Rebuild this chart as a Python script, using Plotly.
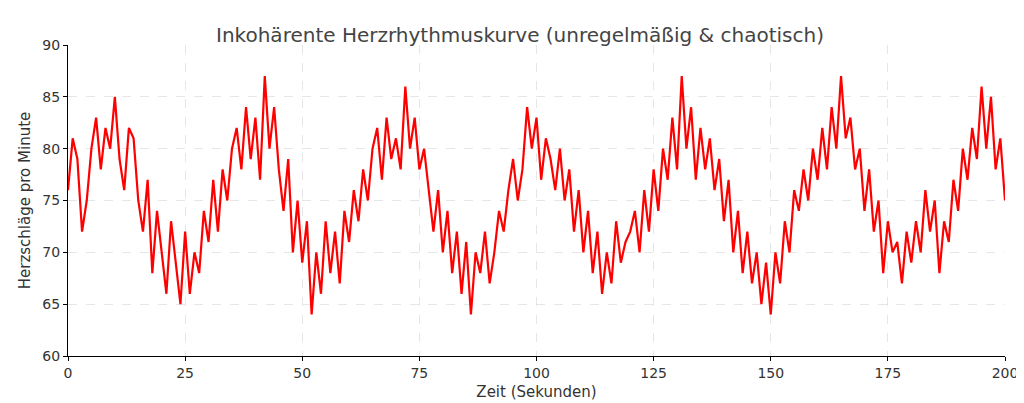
import plotly.graph_objects as go

seconds = list(range(0, 201))
bpm = [76,81,79,72,75,80,83,78,82,80,85,79,76,82,81,75,
       72,77,68,74,70,66,73,69,65,72,66,70,68,74,71,
       77,72,78,75,80,82,78,84,79,83,77,87,80,84,78,
       74,79,70,75,69,73,64,70,66,73,68,72,67,74,71,
       76,73,78,75,80,82,77,83,79,81,78,86,80,83,78,
       80,76,72,76,70,74,68,72,66,71,64,70,68,72,67,
       70,74,72,76,79,75,78,84,80,83,77,81,79,76,80,
       75,78,72,76,70,74,68,72,66,70,67,73,69,71,72,
       74,70,76,72,78,74,80,77,83,78,87,80,84,77,82,
       78,81,76,79,73,77,70,74,68,72,67,70,65,69,64,
       70,67,73,70,76,74,78,75,80,77,82,78,84,80,87,
       81,83,78,80,74,78,72,75,68,73,70,71,67,72,69,
       73,70,76,72,75,68,73,71,77,74,80,77,82,79,86,80,85,78,81,75]

fig = go.Figure(go.Scatter(x=seconds, y=bpm, mode="lines",
                           line=dict(color="red", width=2.2)))
axis_common = dict(showline=True, linecolor="black", linewidth=1, ticks="outside",
                   ticklen=4, tickcolor="black", showgrid=True, gridcolor="#e6e6e6",
                   griddash="dash", zeroline=False, mirror=False, automargin=False,
                   tickfont=dict(size=14, color="#333"))
fig.update_layout(
    width=1024, height=403, plot_bgcolor="white", paper_bgcolor="white",
    font=dict(family="DejaVu Sans", color="#333"),
    margin=dict(l=60, r=27, t=37, b=55, autoexpand=False),
    title=dict(text="Inkohärente Herzrhythmuskurve (unregelmäßig & chaotisch)",
               x=0.5, xanchor="center", y=0.95, font=dict(size=20, color="#444")),
    showlegend=False,
)
fig.update_xaxes(range=[0, 200], tickvals=[0,25,50,75,100,125,150,175,200],
                 title=dict(text="Zeit (Sekunden)", font=dict(size=15), standoff=6), **axis_common)
fig.update_yaxes(range=[60, 90], tickvals=[60,65,70,75,80,85,90],
                 title=dict(text="Herzschläge pro Minute", font=dict(size=15), standoff=8), **axis_common)
fig.write_html("out.html")
